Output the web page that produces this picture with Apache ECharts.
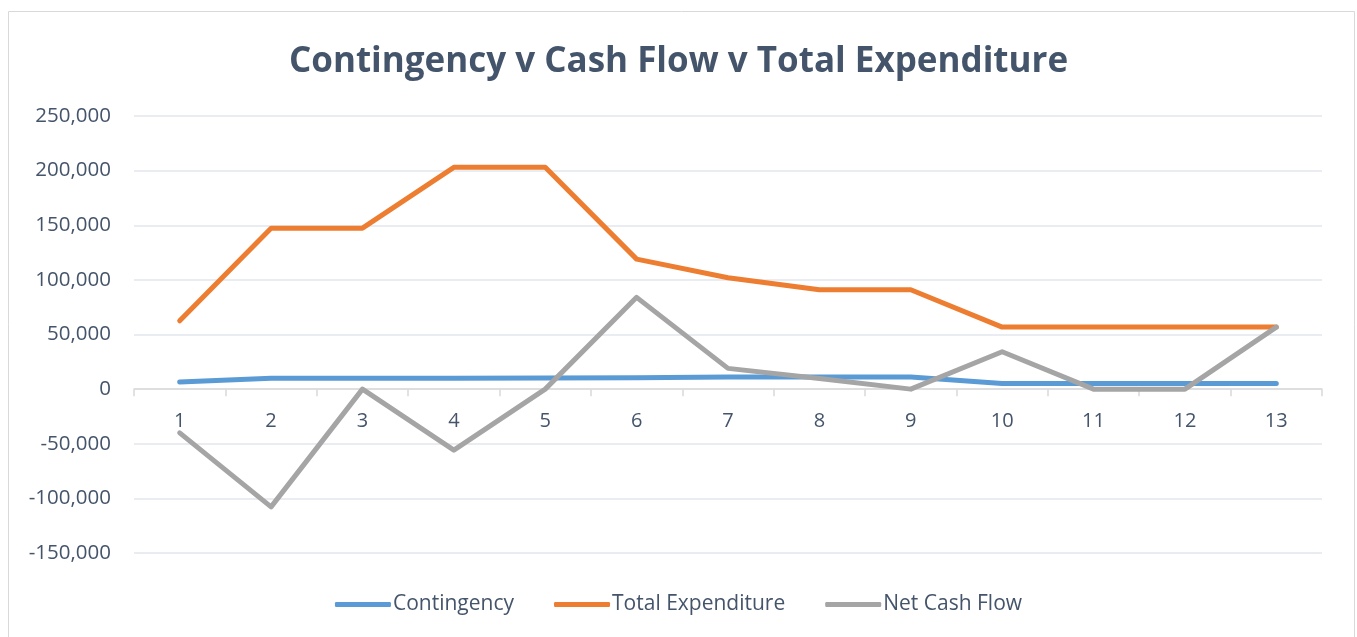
<!DOCTYPE html>
<html>
<head>
<meta charset="utf-8">
<script src="https://cdn.jsdelivr.net/npm/echarts@6/dist/echarts.min.js"></script>
<style>
  html, body { margin: 0; padding: 0; background: #fff; }
  #chart { width: 1357px; height: 637px; }
</style>
</head>
<body>
<div id="chart"></div>
<script>
// periods 1..13
const periods = ['1', '2', '3', '4', '5', '6', '7', '8', '9', '10', '11', '12', '13']

const contingency = [6500, 10000, 10000, 10000, 10200, 10500, 11000, 11000, 11000, 5200, 5200, 5200, 5200]
const totalExpenditure = [62500, 147300, 147300, 203000, 203000, 119000, 102000, 91000, 91000, 56800, 56800, 56800, 56800]
const netCashFlow = [-40000, -107800, 0, -55900, 0, 84000, 19000, 9800, 0, 34200, 0, 0, 56800]

const TEXT = '#44546A'
const FONT = '"Open Sans", "Noto Sans", sans-serif'

const chart = echarts.init(document.getElementById('chart'))

const lineSeries = (name, data, color) => ({
  name,
  type: 'line',
  data,
  symbol: 'none',
  lineStyle: { width: 5, color, cap: 'round', join: 'round' },
  itemStyle: { color },
})

chart.setOption({
  animation: false,
  textStyle: { fontFamily: FONT },
  graphic: [
    {
      type: 'rect',
      shape: { x: 8.5, y: 11.5, width: 1346, height: 640 },
      style: { fill: 'none', stroke: '#D9D9D9', lineWidth: 1 },
    },
  ],
  title: {
    text: 'Contingency v Cash Flow v Total Expenditure',
    left: 'center',
    top: 40,
    textStyle: { fontSize: 35, fontWeight: 'bold', color: TEXT, fontFamily: FONT },
  },
  legend: {
    bottom: 17,
    left: 'center',
    itemWidth: 56,
    itemHeight: 5,
    itemGap: 40,
    icon: 'roundRect',
    textStyle: { fontSize: 21, color: TEXT, padding: [0, 0, 0, -3] },
    data: ['Contingency', 'Total Expenditure', 'Net Cash Flow'],
  },
  grid: { left: 134, right: 35, top: 116, bottom: 84 },
  xAxis: [
    {
      // axis line + ticks sitting on zero
      type: 'category',
      data: periods,
      boundaryGap: true,
      axisLine: { onZero: true, lineStyle: { color: '#D9D9D9', width: 1.5 } },
      axisTick: { show: true, length: 7, lineStyle: { color: '#D9D9D9', width: 1.5 } },
      axisLabel: { show: false },
    },
    {
      // labels just under the zero line
      type: 'category',
      data: periods,
      position: 'bottom',
      offset: -164,
      boundaryGap: true,
      axisLine: { show: false },
      axisTick: { show: false },
      axisLabel: { color: TEXT, fontSize: 20, margin: 22 },
    },
  ],
  yAxis: {
    type: 'value',
    min: -150000,
    max: 250000,
    interval: 50000,
    axisLine: { show: false },
    axisTick: { show: false },
    axisLabel: {
      color: TEXT,
      fontSize: 20.5,
      margin: 23,
      formatter: (v) => v.toLocaleString('en-US'),
    },
    splitLine: { lineStyle: { color: '#E2E6EC', width: 1.5 } },
  },
  series: [
    lineSeries('Contingency', contingency, '#5B9BD5'),
    lineSeries('Total Expenditure', totalExpenditure, '#ED7D31'),
    lineSeries('Net Cash Flow', netCashFlow, '#A5A5A5'),
  ],
})
</script>
</body>
</html>
